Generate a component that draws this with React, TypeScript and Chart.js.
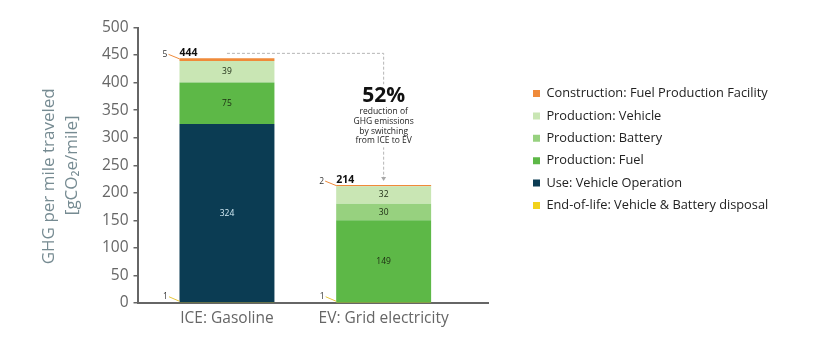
import React, { useEffect, useRef } from "react";
import { Chart, registerables } from "chart.js";

Chart.register(...registerables);

// ---------- data ----------
const categories = ["ICE: Gasoline", "EV: Grid electricity"];
const seriesNames = [
  "End-of-life: Vehicle & Battery disposal",
  "Use: Vehicle Operation",
  "Production: Fuel",
  "Production: Battery",
  "Production: Vehicle",
  "Construction: Fuel Production Facility",
];
const endOfLife = [1, 1];
const useOperation = [324, 0];
const productionFuel = [75, 149];
const productionBattery = [0, 30];
const productionVehicle = [39, 32];
const construction = [5, 2];
const totals = [444, 214];
const yMin = 0;
const yMax = 500;
const yStep = 50;
const yTitle = ["GHG per mile traveled     ", "[gCO\u2082e/mile]"];
const reductionHeadline = "52%";
const reductionText = ["reduction of", "GHG emissions", "by switching", "from ICE to EV"];

// ---------- styles ----------
const FAMILY = "'Open Sans', sans-serif";
const seriesColors = ["#F2D21B", "#0B3C53", "#5DB847", "#97D17F", "#C9E6B4", "#EF8A3A"];
const labelColors = ["#222", "#d3ebf5", "#1c2a12", "#1c2a12", "#1c2a12", "#222"];
const seriesValues = [endOfLife, useOperation, productionFuel, productionBattery, productionVehicle, construction];

const CANVAS_W = 804;
const CANVAS_H = 334;
const LEGEND_FONT = 12.8;
const LEGEND_PAD = 9.6;
const LEGEND_BOX = 7;
const LEGEND_LEFT = 515.4;
const AREA_RIGHT = 480;
const AXIS_LEFT = 129.5;

const annotationPlugin = {
  id: "ghgAnnotations",
  afterDatasetsDraw(chart: any) {
    const ctx = chart.ctx as CanvasRenderingContext2D;
    ctx.save();
    // inner value labels
    seriesValues.forEach((vals, d) => {
      const meta = chart.getDatasetMeta(d);
      vals.forEach((v, i) => {
        if (v < 20) return;
        const el: any = meta.data[i];
        ctx.font = `8.5px ${FAMILY}`;
        ctx.fillStyle = labelColors[d];
        ctx.textAlign = "center";
        ctx.textBaseline = "middle";
        ctx.fillText(String(v), el.x, (el.y + el.base) / 2);
      });
    });

    const topMeta = chart.getDatasetMeta(seriesValues.length - 1);
    const botMeta = chart.getDatasetMeta(0);
    categories.forEach((_, i) => {
      const topEl: any = topMeta.data[i];
      const botEl: any = botMeta.data[i];
      const left = topEl.x - topEl.width / 2;
      const top = topEl.y;
      const bottom = botEl.base;
      // total
      ctx.font = `bold 10.5px ${FAMILY}`;
      ctx.fillStyle = "#111";
      ctx.textAlign = "left";
      ctx.textBaseline = "alphabetic";
      ctx.fillText(String(totals[i]), left, top - 2.5);
      // construction small label + leader
      ctx.strokeStyle = seriesColors[5];
      ctx.lineWidth = 1;
      ctx.beginPath();
      ctx.moveTo(left - 11, top - 4);
      ctx.lineTo(left, top + 0.5);
      ctx.stroke();
      ctx.font = `8.5px ${FAMILY}`;
      ctx.fillStyle = "#333";
      ctx.textAlign = "center";
      ctx.textBaseline = "middle";
      ctx.fillText(String(construction[i]), left - 14.5, top - 3.5);
      // end-of-life small label + leader
      ctx.strokeStyle = "#E5C53A";
      ctx.beginPath();
      ctx.moveTo(left - 10.5, bottom - 5.5);
      ctx.lineTo(left, bottom - 1);
      ctx.stroke();
      ctx.fillText(String(endOfLife[i]), left - 14, bottom - 5.5);
    });

    // dashed comparison line
    const t0: any = topMeta.data[0];
    const t1: any = topMeta.data[1];
    const lineY = t0.y - 5;
    const arrowY = t1.y - 4;
    ctx.strokeStyle = "#b5b5b5";
    ctx.lineWidth = 1;
    ctx.setLineDash([3, 2]);
    ctx.beginPath();
    ctx.moveTo(t0.x, lineY);
    ctx.lineTo(t1.x, lineY);
    ctx.lineTo(t1.x, arrowY - 3);
    ctx.stroke();
    ctx.setLineDash([]);
    ctx.fillStyle = "#a8a8a8";
    ctx.beginPath();
    ctx.moveTo(t1.x - 2.5, arrowY - 4);
    ctx.lineTo(t1.x + 2.5, arrowY - 4);
    ctx.lineTo(t1.x, arrowY);
    ctx.closePath();
    ctx.fill();

    // reduction text block
    const cx = t1.x;
    const headY = lineY + 43;
    ctx.fillStyle = "#fff";
    ctx.fillRect(cx - 34, headY - 12, 68, 63);
    ctx.fillStyle = "#111";
    ctx.textAlign = "center";
    ctx.textBaseline = "middle";
    ctx.font = `bold 21px ${FAMILY}`;
    ctx.fillText(reductionHeadline, cx, headY);
    ctx.font = `8.5px ${FAMILY}`;
    ctx.fillStyle = "#222";
    reductionText.forEach((line, k) => {
      ctx.fillText(line, cx, headY + 15.7 + k * 9.6);
    });
    ctx.restore();
  },
};

export default function App() {
  const ref = useRef<HTMLCanvasElement>(null);
  useEffect(() => {
    const canvas = ref.current;
    if (!canvas) return;
    const m = document.createElement("canvas").getContext("2d")!;
    m.font = `${LEGEND_FONT}px ${FAMILY}`;
    const textW = Math.max(...seriesNames.map((n) => m.measureText(n).width));
    const legendW = LEGEND_PAD + LEGEND_BOX + LEGEND_FONT / 2 + textW + 10;
    const padRight = CANVAS_W - LEGEND_LEFT - legendW;
    const gap = LEGEND_LEFT - AREA_RIGHT;

    const datasets = seriesNames.map((name, d) => ({
      label: name,
      data: seriesValues[d].map((v, i) => ({ x: i, y: v })),
      backgroundColor: seriesColors[d],
      borderWidth: 0,
      categoryPercentage: 0.606,
      barPercentage: 1,
    }));

    const chart = new Chart(canvas, {
      type: "bar",
      data: { datasets },
      plugins: [annotationPlugin],
      options: {
        animation: false,
        responsive: true,
        maintainAspectRatio: false,
        layout: { padding: { top: 19.5, right: padRight, bottom: 0, left: 0 } },
        plugins: {
          tooltip: { enabled: false },
          legend: {
            position: "right",
            align: "start",
            reverse: true,
            maxWidth: 400,
            title: { display: true, text: " ", padding: { top: 38, bottom: 0 }, font: { size: 10, lineHeight: 1.2 } },
            labels: {
              boxWidth: LEGEND_BOX,
              boxHeight: LEGEND_BOX,
              padding: LEGEND_PAD,
              color: "#222",
              font: { family: FAMILY, size: LEGEND_FONT },
            },
          },
        },
        scales: {
          x: {
            type: "linear",
            stacked: true,
            offset: false,
            bounds: "data",
            min: -0.571,
            max: 1.666,
            grid: { display: false, drawTicks: false, offset: false },
            border: { display: true, color: "#666", width: 2 },
            afterBuildTicks: (s: any) => {
              s.ticks = categories.map((_, i) => ({ value: i }));
            },
            ticks: {
              autoSkip: false,
              maxRotation: 0,
              padding: 6,
              color: "#666",
              font: { family: FAMILY, size: 15.5 },
              callback: (v: any) => categories[v as number] ?? "",
            },
            afterFit: (s: any) => {
              s.height = CANVAS_H - 295;
              s.paddingLeft = 0;
              s.paddingRight = 0;
            },
          },
          y: {
            stacked: true,
            min: yMin,
            max: yMax,
            grid: { display: true, drawOnChartArea: false, drawTicks: true, tickLength: 4, color: "#666", lineWidth: 1.5 },
            border: { display: true, color: "#666", width: 2 },
            ticks: { stepSize: yStep, padding: 5, color: "#666", font: { family: FAMILY, size: 15.5 } },
            title: {
              display: true,
              text: yTitle,
              color: "#768b92",
              font: { family: FAMILY, size: 17, lineHeight: 1.35 },
              padding: { top: 30, bottom: 0 },
            },
            afterFit: (s: any) => {
              s.width = AXIS_LEFT;
            },
          },
          y2: {
            type: "linear",
            position: "right",
            display: true,
            grid: { display: false },
            border: { display: false },
            ticks: { display: false },
            afterFit: (s: any) => {
              s.width = gap;
            },
          },
        },
      } as any,
    });
    return () => chart.destroy();
  }, []);
  return (
    <div style={{ width: CANVAS_W, height: CANVAS_H, position: "relative" }}>
      <canvas ref={ref} />
    </div>
  );
}
